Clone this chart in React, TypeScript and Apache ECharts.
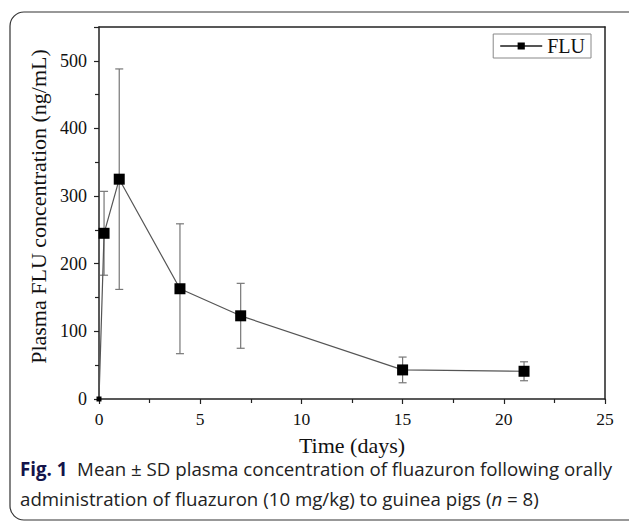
import React, { useEffect, useRef } from "react";
import * as echarts from "echarts";

const timeDays = [0, 0.25, 1, 4, 7, 15, 21];
const meanConc = [0, 245, 325, 163, 123, 43, 41];
const sdConc = [0, 62, 163, 96, 48, 19, 14];
const xTickStep = 5;
const yTickStep = 100;
const yLabelMax = 500;
const seriesName = "FLU";

const SERIF = "Liberation Serif";
const SANS = "Open Sans";

export default function App() {
  const ref = useRef<HTMLDivElement>(null);
  useEffect(() => {
    document.body.style.margin = "0";
    const chart = echarts.init(ref.current!, null, { renderer: "svg" });
    const lineData = timeDays.map((t, i) => ({
      value: [t, meanConc[i]],
      symbolSize: i === 0 ? 5 : 11,
    }));
    const errData = timeDays
      .map((t, i) => [t, meanConc[i] - sdConc[i], meanConc[i] + sdConc[i]])
      .filter((_, i) => sdConc[i] > 0);
    chart.setOption({
      animation: false,
      backgroundColor: "#fff",
      grid: { left: 99, right: 24, top: 27, bottom: 123, containLabel: false },
      legend: {
        right: 38,
        top: 34,
        data: [seriesName],
        itemWidth: 42,
        itemHeight: 9,
        itemGap: 4,
        padding: [2, 6, 2, 6],
        borderColor: "#888",
        borderWidth: 1,
        textStyle: { fontFamily: SERIF, fontSize: 20, color: "#111" },
      },
      xAxis: [
        {
          type: "value",
          min: 0,
          max: 25,
          interval: xTickStep,
          name: "Time (days)",
          nameLocation: "middle",
          nameGap: 35,
          nameTextStyle: { fontFamily: SERIF, fontSize: 22, color: "#111" },
          axisLine: { show: true, onZero: false, lineStyle: { color: "#222", width: 1.5 } },
          axisTick: { show: true, inside: false, length: 5, lineStyle: { color: "#222", width: 1.2 } },
          minorTick: { show: true, splitNumber: 2, length: 4, lineStyle: { color: "#222", width: 1.2 } },
          axisLabel: {
            show: true,
            fontFamily: SERIF,
            fontSize: 17.5,
            color: "#111",
            margin: 11,
          },
          splitLine: { show: false },
        },
        {
          type: "value",
          position: "top",
          min: 0,
          max: 25,
          axisLine: { show: true, onZero: false, lineStyle: { color: "#222", width: 1.5 } },
          axisTick: { show: false },
          axisLabel: { show: false },
          splitLine: { show: false },
        },
      ],
      yAxis: [
        {
          type: "value",
          min: 0,
          max: 550,
          interval: yTickStep,
          name: "Plasma FLU concentration (ng/mL)",
          nameLocation: "middle",
          nameGap: 40,
          nameTextStyle: { fontFamily: SERIF, fontSize: 22, color: "#111", padding: [0, 0, 0, 13] },
          axisLine: { show: true, onZero: false, lineStyle: { color: "#222", width: 1.5 } },
          axisTick: { show: true, inside: false, length: 5, lineStyle: { color: "#222", width: 1.2 } },
          minorTick: { show: true, splitNumber: 2, length: 4, lineStyle: { color: "#222", width: 1.2 } },
          axisLabel: {
            show: true,
            fontFamily: SERIF,
            fontSize: 18,
            color: "#111",
            margin: 12,
            formatter: (v: number) => (v > yLabelMax ? "" : String(v)),
          },
          splitLine: { show: false },
        },
        {
          type: "value",
          position: "right",
          min: 0,
          max: 550,
          axisLine: { show: true, onZero: false, lineStyle: { color: "#222", width: 1.5 } },
          axisTick: { show: false },
          axisLabel: { show: false },
          splitLine: { show: false },
        },
      ],
      series: [
        {
          type: "custom",
          name: "err",
          xAxisIndex: 0,
          yAxisIndex: 0,
          data: errData,
          z: 1,
          renderItem: (params: any, api: any) => {
            const x = api.value(0);
            const lo = api.coord([x, api.value(1)]);
            const hi = api.coord([x, api.value(2)]);
            const cap = 4;
            const st = { stroke: "#777", lineWidth: 1.2 };
            return {
              type: "group",
              children: [
                { type: "line", shape: { x1: lo[0], y1: lo[1], x2: hi[0], y2: hi[1] }, style: st },
                { type: "line", shape: { x1: lo[0] - cap, y1: lo[1], x2: lo[0] + cap, y2: lo[1] }, style: st },
                { type: "line", shape: { x1: hi[0] - cap, y1: hi[1], x2: hi[0] + cap, y2: hi[1] }, style: st },
              ],
            };
          },
        },
        {
          type: "line",
          name: seriesName,
          xAxisIndex: 0,
          yAxisIndex: 0,
          data: lineData,
          symbol: "rect",
          symbolSize: 11,
          showAllSymbol: true,
          z: 3,
          clip: false,
          lineStyle: { color: "#555", width: 1.2 },
          itemStyle: { color: "#000", borderWidth: 0 },
        },
      ],
      graphic: [
        {
          type: "rect",
          shape: { x: 10, y: 12, width: 640, height: 508, r: 14 },
          style: { fill: "none", stroke: "#333", lineWidth: 1.2 },
          silent: true,
        },
        {
          type: "text",
          left: 20,
          top: 459,
          style: {
            text: "{b|Fig. 1}  Mean ± SD plasma concentration of fluazuron following orally",
            fontFamily: SANS,
            fontSize: 18.7,
            fill: "#222",
            rich: {
              b: { fontFamily: SANS, fontSize: 18.7, fontWeight: "bold", fill: "#14144a" },
            },
          },
        },
        {
          type: "text",
          left: 20,
          top: 489,
          style: {
            text: "administration of fluazuron (10 mg/kg) to guinea pigs ({i|n} = 8)",
            fontFamily: SANS,
            fontSize: 18.7,
            fill: "#222",
            rich: {
              i: { fontFamily: SANS, fontSize: 18.7, fontStyle: "italic", fill: "#222" },
            },
          },
        },
      ],
    });
    return () => chart.dispose();
  }, []);
  return <div ref={ref} style={{ width: 629, height: 522, position: "absolute", left: 0, top: 0 }} />;
}
